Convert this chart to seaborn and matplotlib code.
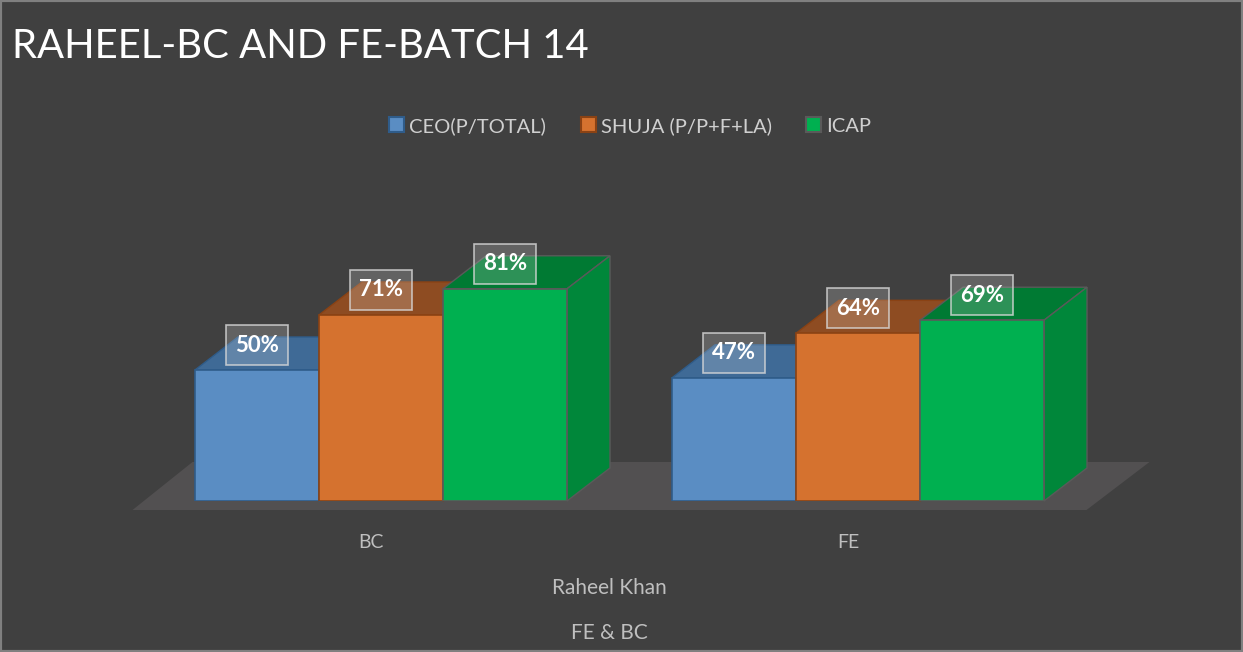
import matplotlib
matplotlib.use("Agg")
import matplotlib.pyplot as plt
import matplotlib.transforms as mtransforms
from matplotlib.patches import Polygon, Rectangle
import pandas as pd
import seaborn as sns

# dados do gráfico
categories = ["BC", "FE"]
series = ["CEO(P/TOTAL)", "SHUJA (P/P+F+LA)", "ICAP"]
ceo = [50, 47]
shuja = [71, 64]
icap = [81, 69]

title = "RAHEEL-BC AND FE-BATCH 14"
axis_title_1 = "Raheel Khan"
axis_title_2 = "FE & BC"

# cores (frente, topo, lado, borda)
front = ["#5A8DC3", "#D5722F", "#00B050"]
top = ["#3F6A96", "#8E4C22", "#007A33"]
side = ["#46729F", "#A8582A", "#00873A"]
edge = ["#2F5C8A", "#8A4214", "#5A5A5A"]

BG = "#404040"
TXT = "#BFBFBF"
DX, DY = 43, 33  # profundidade 3D em pixels

df = pd.DataFrame({
    "cat": categories * 3,
    "serie": [series[0]] * 2 + [series[1]] * 2 + [series[2]] * 2,
    "val": ceo + shuja + icap,
})

sns.set_theme(style="white")
plt.rcParams["font.family"] = ["Lato", "DejaVu Sans"]

fig = plt.figure(figsize=(12.43, 6.52), dpi=100, facecolor=BG)
ax = fig.add_axes([142.5 / 1243, 151 / 652, 954 / 1243, 262 / 652])
ax.set_facecolor("none")

sns.barplot(data=df, x="cat", y="val", hue="serie", palette=front,
            width=0.78, saturation=1, ax=ax, legend=True, edgecolor="none")
ax.set_xlim(-0.5, 1.5)
ax.set_ylim(0, 100)
for s in ax.spines.values():
    s.set_visible(False)
ax.set_yticks([])
ax.set_xlabel("")
ax.set_ylabel("")
ax.tick_params(axis="x", length=0, pad=24, labelsize=14, labelcolor=TXT)
# rótulos das categorias um pouco à esquerda (efeito da perspectiva)
shift = mtransforms.ScaledTranslation(-0.1, 0, fig.dpi_scale_trans)
for lab in ax.get_xticklabels():
    lab.set_transform(lab.get_transform() + shift)

inv = ax.transData.inverted()

# chão
bb = ax.get_window_extent()
x0d, x1d, y0d = bb.x0, bb.x1, bb.y0
floor = [(x0d - 10, y0d - 9), (x0d + 50, y0d + 39), (x1d + 53, y0d + 39), (x1d - 10, y0d - 9)]
ax.add_patch(Polygon(inv.transform(floor), closed=True, fc="#525051", ec="none",
                     zorder=1, clip_on=False))

for i, cont in enumerate(ax.containers):
    for p in cont.patches:
        p.set_edgecolor(edge[i])
        p.set_linewidth(1.2)
        p.set_zorder(3 + i)
        xa, xb = p.get_x(), p.get_x() + p.get_width()
        h = p.get_height()
        (ax_, ay_), (bx_, by_) = ax.transData.transform([(xa, 0), (xb, h)])
        topf = [(ax_, by_), (ax_ + DX, by_ + DY), (bx_ + DX, by_ + DY), (bx_, by_)]
        sidef = [(bx_, ay_), (bx_ + DX, ay_ + DY), (bx_ + DX, by_ + DY), (bx_, by_)]
        for poly, c in ((topf, top[i]), (sidef, side[i])):
            ax.add_patch(Polygon(inv.transform(poly), closed=True, fc=c, ec=edge[i],
                                 lw=1, zorder=3 + i - 0.01, clip_on=False))
        ax.annotate(f"{h:.0f}%", xy=((xa + xb) / 2, h), xytext=(0, 18),
                    textcoords="offset points", ha="center", va="center",
                    fontsize=16, fontweight="bold", color="white", zorder=20,
                    bbox=dict(boxstyle="square,pad=0.42", fc=(1, 1, 1, 0.18),
                              ec=(0.85, 0.85, 0.85, 0.8), lw=1.2))

# legenda
handles, labels = ax.get_legend_handles_labels()
for hd, e in zip(handles, edge):
    hd.set_edgecolor(e)
    hd.set_linewidth(1.5)
leg = ax.legend(handles, labels, loc="center", bbox_to_anchor=(0.507, 0.807),
                bbox_transform=fig.transFigure, ncol=3, frameon=False,
                fontsize=14.5, handlelength=0.75, handleheight=0.75,
                handletextpad=0.25, columnspacing=1.7)
for t in leg.get_texts():
    t.set_color("#D0D0D0")

fig.text(12 / 1243, 1 - 58 / 652, title, color="white", fontsize=28.8,
         ha="left", va="baseline")
fig.text(609 / 1243, 1 - 588 / 652, axis_title_1, color=TXT, fontsize=15,
         ha="center", va="center")
fig.text(609 / 1243, 1 - 633 / 652, axis_title_2, color=TXT, fontsize=15,
         ha="center", va="center")

fig.patches.append(Rectangle((0, 0), 1, 1, transform=fig.transFigure, fill=False,
                             ec="#808080", lw=3))

fig.savefig("out.png", dpi=100, facecolor=BG)
